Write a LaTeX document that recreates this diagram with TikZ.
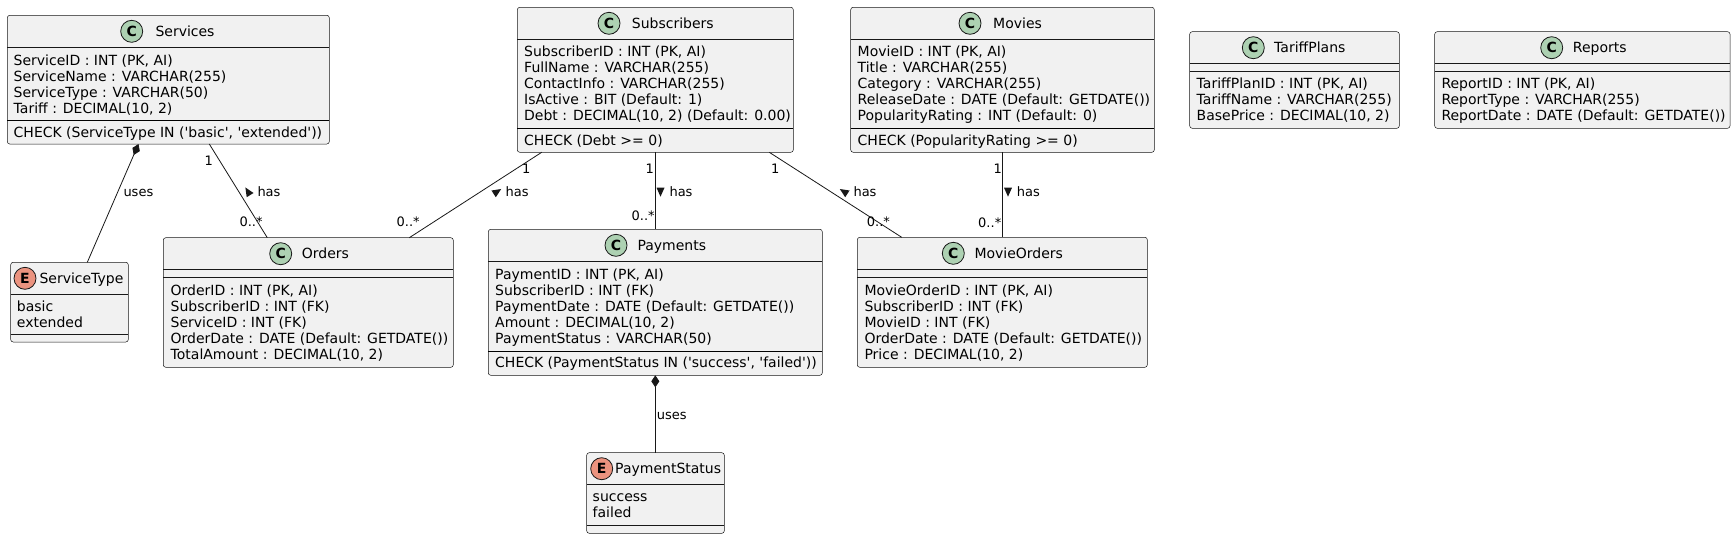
\documentclass[tikz,border=0pt]{standalone}
\usepackage{fontspec}
\setmainfont{DejaVu Sans}
\usetikzlibrary{arrows.meta}
\definecolor{boxfill}{HTML}{F1F1F1}
\definecolor{boxline}{HTML}{181818}
\definecolor{cgreen}{HTML}{ADD1B2}
\definecolor{ered}{HTML}{EB937F}
\newcommand\sqt{\textquotesingle}
\newcommand\attrs[4]{\foreach \attrtext [count=\attrnum] in {#4} {\node[txt] (#1-\attrnum) at (#2,{#3+16*(\attrnum-1)}) {\attrtext};}}
\newcommand\dirtri[2]{\fill[boxline, shift={#1}, rotate=#2] (5,0) -- (-4,4) -- (-4,-4) -- cycle;}
\tikzset{
 cls/.style={draw=boxline, line width=0.5pt, fill=boxfill, rounded corners=2.5pt, inner sep=0pt, outer sep=0pt, anchor=north west},
 hsep/.style={draw=boxline, line width=0.5pt},
 msep/.style={draw=black, line width=0.9pt},
 txt/.style={inner sep=0pt, font=\fontsize{14}{16}\selectfont, anchor=base west},
 lbl/.style={inner sep=0pt, font=\fontsize{13}{15}\selectfont, anchor=base west},
 badge/.style={circle, draw=boxline, line width=0.8pt, minimum size=22pt, inner sep=0pt, font=\fontsize{14}{16}\selectfont\bfseries},
 conn/.style={draw=boxline, line width=0.8pt},
 comp/.style={conn, {Diamond[length=12pt,width=8pt]}-},
}
\begin{document}
\begin{tikzpicture}[x=1pt,y=-1pt]
\fill[white] (0,0) rectangle (1736,539);
\useasboundingbox (0,0) rectangle (1736,539);

% ---------- Services
\node[cls, minimum width=322pt, minimum height=128.7pt] (services) at (7.3,15.3) {};
\draw[hsep] ([yshift=-32pt]services.north west) -- ([yshift=-32pt]services.north east);
\draw[msep] ([yshift=-105.4pt]services.north west) -- ([yshift=-105.4pt]services.north east);
\node[badge, fill=cgreen] (services-c) at (131.7,31.3) {C};
\node[txt] (services-t) at (155.3,36.3) {Services};
\attrs{services-a}{13.5}{65}{{ServiceID : INT (PK, AI)},{ServiceName : VARCHAR(255)},{ServiceType : VARCHAR(50)},{Tariff : DECIMAL(10, 2)}}
\node[txt] (services-m) at (13.5,137.5) {CHECK (ServiceType IN (\sqt basic\sqt, \sqt extended\sqt))};

% ---------- Subscribers
\node[cls, minimum width=276pt, minimum height=145pt] (subscribers) at (517.3,7.3) {};
\draw[hsep] ([yshift=-32pt]subscribers.north west) -- ([yshift=-32pt]subscribers.north east);
\draw[msep] ([yshift=-121pt]subscribers.north west) -- ([yshift=-121pt]subscribers.north east);
\node[badge, fill=cgreen] (subscribers-c) at (609,23.3) {C};
\node[txt] (subscribers-t) at (631.7,28.3) {Subscribers};
\attrs{subscribers-a}{524}{56.8}{{SubscriberID : INT (PK, AI)},{FullName : VARCHAR(255)},{ContactInfo : VARCHAR(255)},{IsActive : BIT (Default: 1)},{Debt : DECIMAL(10, 2) (Default: 0.00)}}
\node[txt] (subscribers-m) at (524,145) {CHECK (Debt >= 0)};

% ---------- Movies
\node[cls, minimum width=303.6pt, minimum height=145pt] (movies) at (850.7,7.3) {};
\draw[hsep] ([yshift=-32pt]movies.north west) -- ([yshift=-32pt]movies.north east);
\draw[msep] ([yshift=-121pt]movies.north west) -- ([yshift=-121pt]movies.north east);
\node[badge, fill=cgreen] (movies-c) at (970,23.3) {C};
\node[txt] (movies-t) at (993,28.3) {Movies};
\attrs{movies-a}{857.5}{56.8}{{MovieID : INT (PK, AI)},{Title : VARCHAR(255)},{Category : VARCHAR(255)},{ReleaseDate : DATE (Default: GETDATE())},{PopularityRating : INT (Default: 0)}}
\node[txt] (movies-m) at (857.5,145) {CHECK (PopularityRating >= 0)};

% ---------- TariffPlans
\node[cls, minimum width=209.6pt, minimum height=96.6pt] (tariffplans) at (1189.7,31.7) {};
\draw[hsep] ([yshift=-32pt]tariffplans.north west) -- ([yshift=-32pt]tariffplans.north east);
\draw[hsep] ([yshift=-40pt]tariffplans.north west) -- ([yshift=-40pt]tariffplans.north east);
\node[badge, fill=cgreen] (tariffplans-c) at (1253.3,47.7) {C};
\node[txt] (tariffplans-t) at (1274,52.7) {TariffPlans};
\attrs{tariffplans-a}{1196.5}{88.5}{{TariffPlanID : INT (PK, AI)},{TariffName : VARCHAR(255)},{BasePrice : DECIMAL(10, 2)}}

% ---------- Reports
\node[cls, minimum width=295.3pt, minimum height=96.6pt] (reports) at (1434.7,31.7) {};
\draw[hsep] ([yshift=-32pt]reports.north west) -- ([yshift=-32pt]reports.north east);
\draw[hsep] ([yshift=-40pt]reports.north west) -- ([yshift=-40pt]reports.north east);
\node[badge, fill=cgreen] (reports-c) at (1551.7,47.7) {C};
\node[txt] (reports-t) at (1572.7,52.7) {Reports};
\attrs{reports-a}{1441.3}{88.5}{{ReportID : INT (PK, AI)},{ReportType : VARCHAR(255)},{ReportDate : DATE (Default: GETDATE())}}

% ---------- ServiceType (enum)
\node[cls, minimum width=117.6pt, minimum height=79.7pt] (servicetype) at (10.7,262.3) {};
\draw[hsep] ([yshift=-32pt]servicetype.north west) -- ([yshift=-32pt]servicetype.north east);
\draw[hsep] ([yshift=-72pt]servicetype.north west) -- ([yshift=-72pt]servicetype.north east);
\node[badge, fill=ered] (servicetype-c) at (25,278.3) {E};
\node[txt] (servicetype-t) at (39.3,283.3) {ServiceType};
\attrs{servicetype-a}{16.7}{311}{{basic},{extended}}

% ---------- Orders
\node[cls, minimum width=290pt, minimum height=129.6pt] (orders) at (163.3,237.7) {};
\draw[hsep] ([yshift=-32pt]orders.north west) -- ([yshift=-32pt]orders.north east);
\draw[hsep] ([yshift=-40pt]orders.north west) -- ([yshift=-40pt]orders.north east);
\node[badge, fill=cgreen] (orders-c) at (280.7,253.7) {C};
\node[txt] (orders-t) at (301.7,258.7) {Orders};
\attrs{orders-a}{170.5}{295.5}{{OrderID : INT (PK, AI)},{SubscriberID : INT (FK)},{ServiceID : INT (FK)},{OrderDate : DATE (Default: GETDATE())},{TotalAmount : DECIMAL(10, 2)}}

% ---------- Payments
\node[cls, minimum width=334pt, minimum height=146pt] (payments) at (488.3,229.3) {};
\draw[hsep] ([yshift=-32pt]payments.north west) -- ([yshift=-32pt]payments.north east);
\draw[msep] ([yshift=-122pt]payments.north west) -- ([yshift=-122pt]payments.north east);
\node[badge, fill=cgreen] (payments-c) at (616,245.3) {C};
\node[txt] (payments-t) at (637.3,250.3) {Payments};
\attrs{payments-a}{495}{279}{{PaymentID : INT (PK, AI)},{SubscriberID : INT (FK)},{PaymentDate : DATE (Default: GETDATE())},{Amount : DECIMAL(10, 2)},{PaymentStatus : VARCHAR(50)}}
\node[txt] (payments-m) at (495,367.5) {CHECK (PaymentStatus IN (\sqt success\sqt, \sqt failed\sqt))};

% ---------- MovieOrders
\node[cls, minimum width=290pt, minimum height=130pt] (movieorders) at (857.3,237.3) {};
\draw[hsep] ([yshift=-32pt]movieorders.north west) -- ([yshift=-32pt]movieorders.north east);
\draw[hsep] ([yshift=-40pt]movieorders.north west) -- ([yshift=-40pt]movieorders.north east);
\node[badge, fill=cgreen] (movieorders-c) at (953.3,253.3) {C};
\node[txt] (movieorders-t) at (974.3,258.3) {MovieOrders};
\attrs{movieorders-a}{864.3}{295.3}{{MovieOrderID : INT (PK, AI)},{SubscriberID : INT (FK)},{MovieID : INT (FK)},{OrderDate : DATE (Default: GETDATE())},{Price : DECIMAL(10, 2)}}

% ---------- PaymentStatus (enum)
\node[cls, minimum width=137.6pt, minimum height=80.6pt] (paymentstatus) at (586.7,452.7) {};
\draw[hsep] ([yshift=-32pt]paymentstatus.north west) -- ([yshift=-32pt]paymentstatus.north east);
\draw[hsep] ([yshift=-73pt]paymentstatus.north west) -- ([yshift=-73pt]paymentstatus.north east);
\node[badge, fill=ered] (paymentstatus-c) at (601.7,468.7) {E};
\node[txt] (paymentstatus-t) at (615,473.7) {PaymentStatus};
\attrs{paymentstatus-a}{592.5}{501.5}{{success},{failed}}

% ---------- Connectors
\draw[comp] ([xshift=131.2pt]services.south west) -- ([xshift=76.6pt]servicetype.north west);
\node[lbl] (l-uses1) at (123.3,196.2) {uses};

\draw[conn] ([xshift=202pt]services.south west) -- ([xshift=104pt]orders.north west);
\node[lbl, anchor=base west] (l-so1) at (204.5,165.4) {1};
\node[lbl] (l-so2) at (239.3,226.4) {0..*};
\dirtri{(248,191.7)}{121.8}
\node[lbl] (l-so3) at (257.3,196.2) {has};

\draw[conn] ([xshift=24.4pt]subscribers.south west) -- ([xshift=246pt]orders.north west);
\node[lbl] (l-uo1) at (522,173.5) {1};
\node[lbl] (l-uo2) at (396.5,226.4) {0..*};
\dirtri{(497,191.7)}{32.8}
\node[lbl] (l-uo3) at (505.5,196.2) {has};

\draw[conn] ([xshift=138pt]subscribers.south west) -- ([xshift=167pt]payments.north west);
\node[lbl] (l-up1) at (645.5,173.5) {1};
\node[lbl] (l-up2) at (631.5,220) {0..*};
\dirtri{(660.5,191.7)}{-90}
\node[lbl] (l-up3) at (669.3,196.2) {has};

\draw[conn] ([xshift=252pt]subscribers.south west) -- ([xshift=44.4pt]movieorders.north west);
\node[lbl] (l-um1) at (771,173.5) {1};
\node[lbl] (l-um2) at (866.7,226.4) {0..*};
\dirtri{(844,191.7)}{147.3}
\node[lbl] (l-um3) at (853.3,196.2) {has};

\draw[conn] ([xshift=151.8pt]movies.south west) -- ([xshift=145.2pt]movieorders.north west);
\node[lbl] (l-mm1) at (993.3,173.5) {1};
\node[lbl] (l-mm2) at (978,227) {0..*};
\dirtri{(1008,191.7)}{-90}
\node[lbl] (l-mm3) at (1016.7,196.2) {has};

\draw[comp] ([xshift=167pt]payments.south west) -- ([xshift=68.6pt]paymentstatus.north west);
\node[lbl] (l-uses2) at (656.7,419.5) {uses};
\end{tikzpicture}
\end{document}
